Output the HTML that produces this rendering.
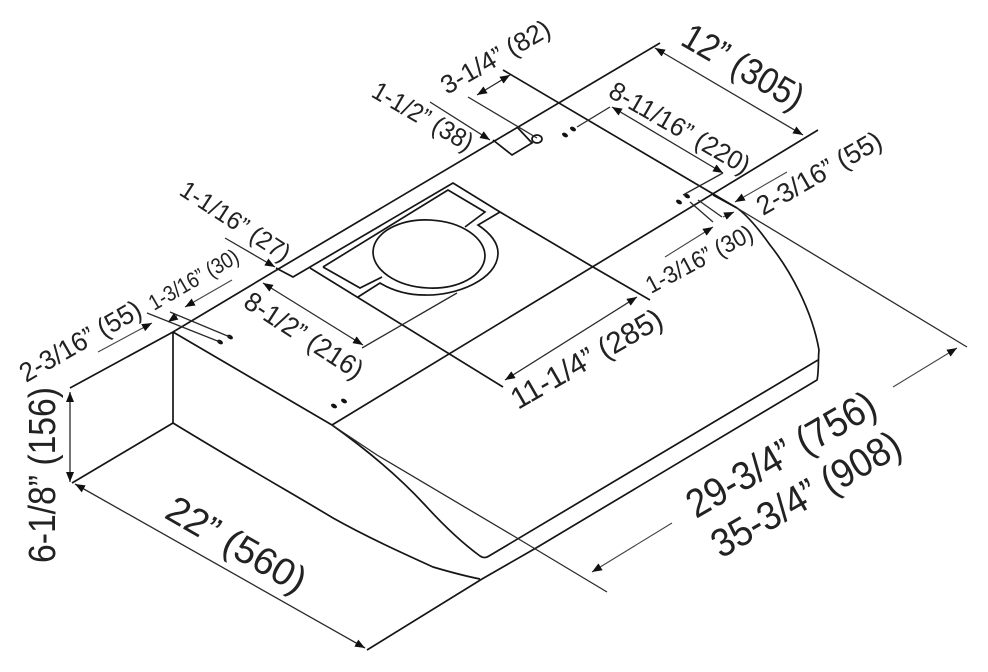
<!DOCTYPE html>
<html><head><meta charset="utf-8"><style>
html,body{margin:0;padding:0;background:#fff}
svg{display:block}
text{font-family:"Liberation Sans",sans-serif;fill:#222}
.k{stroke:#151515;stroke-width:1.7;fill:none}
.m{stroke:#2a2a2a;stroke-width:1.3;fill:none}
.t{stroke:#444;stroke-width:1.1;fill:none}
.a{marker-end:url(#ar)}
.b{marker-start:url(#ar);marker-end:url(#ar)}
</style></head><body>
<svg width="988" height="672" viewBox="0 0 988 672" xmlns="http://www.w3.org/2000/svg">
<defs><marker id="ar" markerUnits="userSpaceOnUse" markerWidth="11" markerHeight="8" refX="10" refY="4" orient="auto-start-reverse"><path d="M0 0L10 4L0 8Z" fill="#111"/></marker></defs>
<rect width="988" height="672" fill="#fff"/>

<!-- body -->
<path class="k" d="M70 388L173 332L280 268L660 43"/>
<path class="k" d="M173 332V423L72 483"/>
<path class="k" d="M173 423C240 464 300 498 333 518C367 537 400 552 433 567C450 572 465 576 480 579"/>
<path class="k" d="M173 332L332 425"/>
<path class="k" d="M332 425C370 452 400 478 425 505C445 527 465 545 480 556C483 558 486 558 489 556L818 360"/>
<path class="k" d="M332 425L818 130"/>
<path class="k" d="M367 650L482 579L536 548L817 380C819 372 818 358 819 350C812 310 790 270 770 245C758 228 748 216 737 208"/>
<path class="k" d="M713 195L737 208"/>
<path class="m" d="M332 425L377 455L517 538L607 592"/>
<path class="k" d="M503 70L737 208"/>
<path class="m" d="M737 208L967 347"/>

<!-- panel -->
<path class="k" d="M276 268L293 277L453 183L500 212L593 267L650 300"/>
<path class="k" d="M310 268L503 387"/>
<path class="k" d="M323 267L448 190L485 212L465 227"/>
<path class="k" d="M323 267L360 288L382 277"/>
<ellipse class="k" cx="429" cy="254" rx="56" ry="34" transform="rotate(3 429 254)"/>
<path class="k" d="M358 297L380 283C395 292 410 295 425 295C455 296 498 280 498 253C498 242 490 233 478 225L500 212"/>
<path class="m" d="M362 348L457 293"/>

<!-- rectangle and hole -->
<path class="k" d="M493 140L512 155L532 143L517 127"/>
<ellipse class="k" cx="537" cy="139" rx="5" ry="4"/>

<!-- dots -->
<g fill="#111">
<ellipse cx="565" cy="135" rx="3.2" ry="2" transform="rotate(30 565 135)"/><ellipse cx="573" cy="129" rx="3.2" ry="2" transform="rotate(30 573 129)"/>
<ellipse cx="679" cy="202" rx="3.2" ry="2" transform="rotate(30 679 202)"/><ellipse cx="687" cy="196" rx="3.2" ry="2" transform="rotate(30 687 196)"/>
<ellipse cx="334" cy="406" rx="3.2" ry="2" transform="rotate(30 334 406)"/><ellipse cx="344" cy="401" rx="3.2" ry="2" transform="rotate(30 344 401)"/>
<ellipse cx="220" cy="342" rx="3.2" ry="2" transform="rotate(30 220 342)"/><ellipse cx="230" cy="337" rx="3.2" ry="2" transform="rotate(30 230 337)"/>
</g>

<!-- extension lines -->
<path class="m" d="M468 97L537 138"/>
<path class="m" d="M147 313L220 342M170 312L230 337"/>
<path class="m" d="M690 202L713 222M698 200L722 217"/>

<!-- dimension lines -->
<path class="m a" d="M430 102L490 140"/>
<path class="m b" d="M477 95L510 75"/>
<path class="m" d="M577 127L610 107"/>
<path class="m b" d="M612 107L723 173"/>
<path class="m" d="M683 195L723 173"/>
<path class="m b" d="M655 48L803 135"/>
<path class="t a" d="M787 172L735 202"/>
<path class="t a" d="M665 257L713 227"/>
<path class="t a" d="M723 217L734 212"/>
<path class="m b" d="M505 380L637 297"/>
<path class="m a" d="M225 238L275 267"/>
<path class="m b" d="M263 283L363 345"/>
<path class="t a" d="M98 352L152 323"/>
<path class="t a" d="M232 280L185 307"/>
<path class="t a" d="M178 315L168 322"/>
<path class="m b" d="M70 392V482"/>
<path class="m b" d="M75 484L365 648"/>
<path class="t a" d="M893 387L957 348"/>
<path class="t a" d="M672 523L592 572"/>

<!-- labels -->
<text x="679" y="44" font-size="37" transform="rotate(30 679 44)" textLength="134" lengthAdjust="spacingAndGlyphs">12” (305)</text>
<text x="607" y="96" font-size="26" transform="rotate(30 607 96)" textLength="158" lengthAdjust="spacingAndGlyphs">8-11/16” (220)</text>
<text x="447" y="95" font-size="26" transform="rotate(-30 447 95)" textLength="122" lengthAdjust="spacingAndGlyphs">3-1/4” (82)</text>
<text x="370" y="96" font-size="26" transform="rotate(30 370 96)" textLength="112" lengthAdjust="spacingAndGlyphs">1-1/2” (38)</text>
<text x="178" y="194" font-size="25" transform="rotate(33 178 194)" textLength="126" lengthAdjust="spacingAndGlyphs">1-1/16” (27)</text>
<text x="154" y="311" font-size="22" transform="rotate(-30 154 311)" textLength="100" lengthAdjust="spacingAndGlyphs">1-3/16” (30)</text>
<text x="26" y="383" font-size="27" transform="rotate(-30 26 383)" textLength="136" lengthAdjust="spacingAndGlyphs">2-3/16” (55)</text>
<text x="242" y="306" font-size="27" transform="rotate(33 242 306)" textLength="136" lengthAdjust="spacingAndGlyphs">8-1/2” (216)</text>
<text x="55" y="563" font-size="38" transform="rotate(-90 55 563)" textLength="176" lengthAdjust="spacingAndGlyphs">6-1/8” (156)</text>
<text x="163" y="517" font-size="38" transform="rotate(30 163 517)" textLength="155" lengthAdjust="spacingAndGlyphs">22” (560)</text>
<text x="518" y="410" font-size="30" transform="rotate(-30 518 410)" textLength="170" lengthAdjust="spacingAndGlyphs">11-1/4” (285)</text>
<text x="696" y="519" font-size="40" transform="rotate(-30 696 519)" textLength="212" lengthAdjust="spacingAndGlyphs">29-3/4” (756)</text>
<text x="721" y="559" font-size="40" transform="rotate(-30 721 559)" textLength="212" lengthAdjust="spacingAndGlyphs">35-3/4” (908)</text>
<text x="651" y="294" font-size="24" transform="rotate(-28 651 294)" textLength="118" lengthAdjust="spacingAndGlyphs">1-3/16” (30)</text>
<text x="763" y="216" font-size="27" transform="rotate(-30 763 216)" textLength="140" lengthAdjust="spacingAndGlyphs">2-3/16” (55)</text>
</svg>
</body></html>
